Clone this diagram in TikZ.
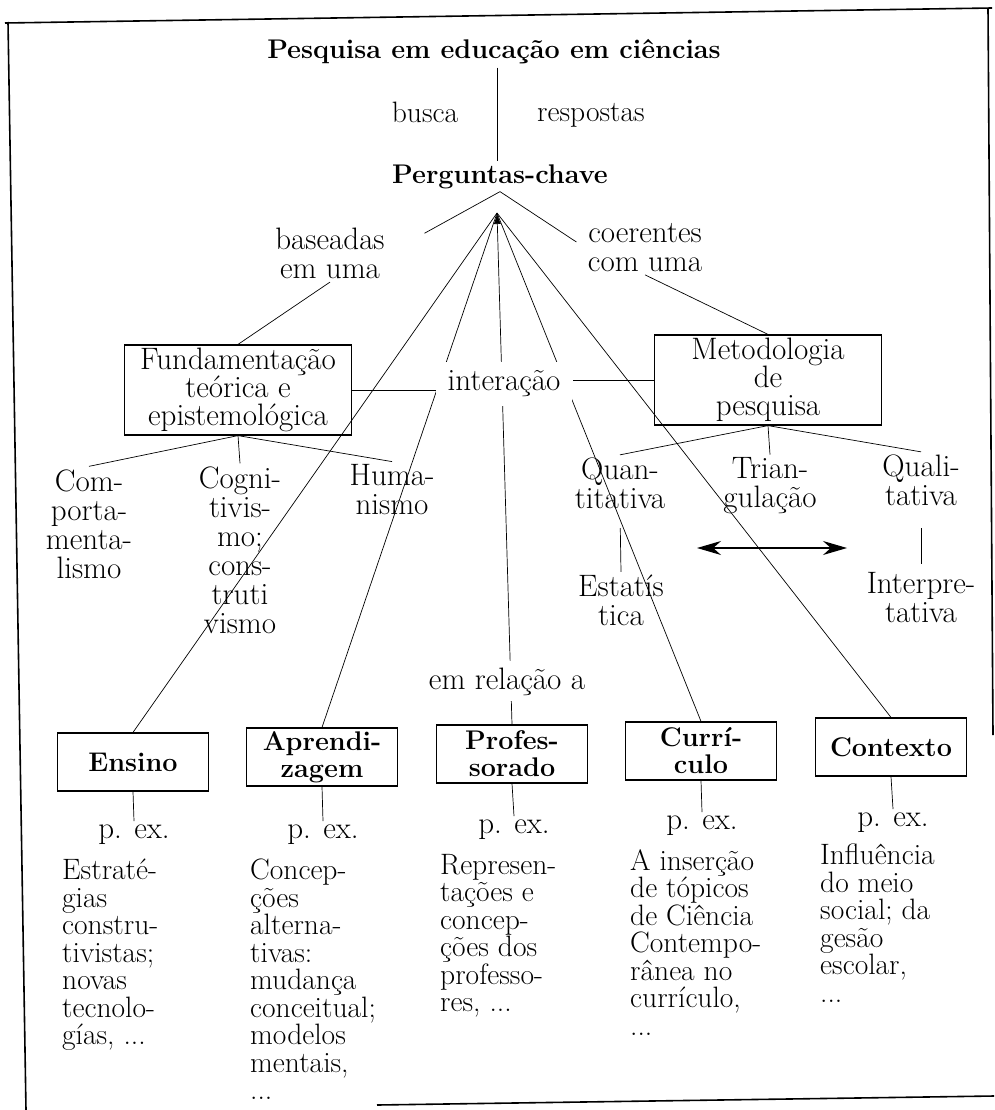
\documentclass[tikz,border=0pt]{standalone}
\usepackage{tikz}
\usetikzlibrary{shapes, arrows.meta, positioning, calc}

\begin{document}
\begin{tikzpicture}[x=1pt, y=-1pt,
          texto/.style={font=\fontsize{31}{29}\selectfont, align=center, inner sep=3pt},
          pequeno/.style={font=\fontsize{29.5}{29}\selectfont, inner sep=3pt},
          negrito/.style={font=\fontsize{27}{27}\selectfont\bfseries, inner sep=3pt},
          caixa/.style={draw, line width=1.2pt, minimum width=151pt, minimum height=58pt,
            font=\fontsize{27}{27}\selectfont\bfseries, align=center, inner sep=2pt},
          caixagrande/.style={draw, line width=1.2pt, minimum width=227pt, minimum height=90pt,
            font=\fontsize{31}{28}\selectfont, align=center, inner sep=2pt},
          exemplo/.style={font=\fontsize{29.5}{27.5}\selectfont, align=left, anchor=north west, inner sep=0pt},
          liga/.style={line width=0.7pt},
          moldura/.style={line width=1.6pt}]
          \useasboundingbox (0,0) rectangle (994,1110);

          % moldura
          \draw[moldura] (5,23) -- (992,8);
          \draw[moldura] (8,22) -- (26,1110);
          \draw[moldura] (988,9) -- (993,735);
          \draw[moldura] (377,1105) -- (994,1096);

          % topo
          \node[negrito, anchor=base] (titulo) at (494,59) {Pesquisa em educação em ciências};
          \node[pequeno, anchor=base] (busca) at (425,123) {busca};
          \node[pequeno, anchor=base] (resp) at (591,122) {respostas};
          \node[negrito, anchor=base] (perg) at (500,183) {Perguntas-chave};
          \coordinate (apex) at (497,213);

          \node[texto] (baseadas) at (330,253.5) {baseadas\\em uma};
          \node[texto] (coerentes) at (645,247.5) {coerentes\\com uma};

          \node[caixagrande] (fund) at (238,390) {Fundamentação\\teórica e\\epistemológica};
          \node[caixagrande] (metod) at (768,380) {Metodologia\\de\\pesquisa};

          \node[texto] (comp) at (89,524) {Com-\\porta-\\menta-\\lismo};
          \node[texto] (cogn) at (240,550) {Cogni-\\tivis-\\mo;\\cons-\\truti\\vismo};
          \node[texto] (hum) at (392,490) {Huma-\\nismo};

          \node[texto] (quan) at (620,483.5) {Quan-\\titativa};
          \node[texto] (trian) at (770,486) {Trian-\\gulação};
          \node[texto] (quali) at (921,480.5) {Quali-\\tativa};
          \node[texto] (estat) at (621,600.5) {Estatís\\tica};
          \node[texto] (interp) at (921,597.5) {Interpre-\\tativa};
          \coordinate (seta1) at (697,548);
          \coordinate (seta2) at (847,548);

          % caixas de baixo
          \node[caixa] (ensino) at (133,762) {Ensino};
          \node[caixa] (aprend) at (322,757) {Aprendi-\\zagem};
          \node[caixa] (prof) at (512,754) {Profes-\\sorado};
          \node[caixa] (curr) at (701,751) {Currí-\\culo};
          \node[caixa] (cont) at (891,747) {Contexto};

          \node[texto, anchor=base] (pex1) at (134,838) {p. ex.};
          \node[texto, anchor=base] (pex2) at (323,838) {p. ex.};
          \node[texto, anchor=base] (pex3) at (514,833) {p. ex.};
          \node[texto, anchor=base] (pex4) at (702,829) {p. ex.};
          \node[texto, anchor=base] (pex5) at (893,826) {p. ex.};

          \node[exemplo] (ex1) at (62,859) {Estraté-\\gias\\constru-\\tivistas;\\novas\\tecnolo-\\gías, ...};
          \node[exemplo] (ex2) at (250,859) {Concep-\\ções\\alterna-\\tivas:\\mudança\\conceitual;\\modelos\\mentais,\\...};
          \node[exemplo] (ex3) at (440,854) {Represen-\\tações e\\concep-\\ções dos\\professo-\\res, ...};
          \node[exemplo] (ex4) at (630,849) {A inserção\\de tópicos\\de Ciência\\Contempo-\\rânea no\\currículo,\\...};
          \node[exemplo] (ex5) at (820,844) {Influência\\do meio\\social; da\\gesão\\escolar,\\...};

          % leque a partir das perguntas
          \draw[liga, {Latex[length=11pt,width=7pt]}-] (apex) -- (prof.north);
          \draw[liga] (apex) -- (ensino.north);
          \draw[liga] (apex) -- (aprend.north);
          \draw[liga] (apex) -- (curr.north);
          \draw[liga] (apex) -- (cont.north);

          \node[texto, fill=white, inner xsep=12pt, inner ysep=9pt] (inter) at (504,384) {interação};
          \node[texto, fill=white, anchor=base, inner ysep=6pt] (emrel) at (507,689) {em relação a};

          \draw[liga] (titulo.south -| apex) -- (perg.north -| apex);
          \draw[liga, shorten >=42pt] (perg.south) -- (baseadas.east);
          \draw[liga, shorten >=10pt] (perg.south) -- (coerentes.west);
          \draw[liga] (baseadas.south) -- (fund.north);
          \draw[liga] (coerentes.south) -- (metod.north);
          \draw[liga] (fund.east) -- (fund.east -| inter.west);
          \draw[liga] (metod.west) -- (metod.west -| inter.east);

          \draw[liga] (fund.south) -- (comp.north);
          \draw[liga] (fund.south) -- (cogn.north);
          \draw[liga] (fund.south) -- (hum.north);
          \draw[liga] (metod.south) -- (quan.north);
          \draw[liga] (metod.south) -- (trian.north);
          \draw[liga] (metod.south) -- (quali.north);
          \draw[liga, shorten <=16pt] (quan.south) -- (estat.north);
          \draw[liga, shorten <=19pt, shorten >=5pt] (quali.south) -- (interp.north);
          \draw[liga, line width=1.3pt, {Stealth[length=24pt,width=14pt]}-{Stealth[length=24pt,width=14pt]}] (seta1) -- (seta2);

          \draw[liga] (ensino.south) -- (pex1.north);
          \draw[liga] (aprend.south) -- (pex2.north);
          \draw[liga] (prof.south) -- (pex3.north);
          \draw[liga] (curr.south) -- (pex4.north);
          \draw[liga] (cont.south) -- (pex5.north);
        \end{tikzpicture}
\end{document}
